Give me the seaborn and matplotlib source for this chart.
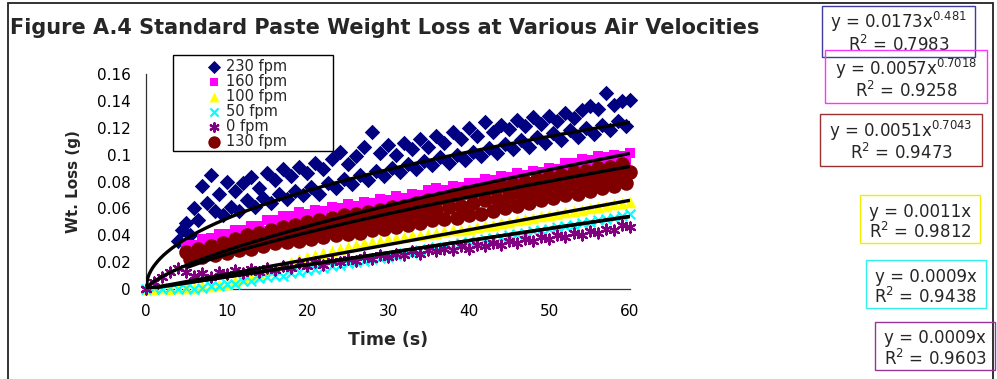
import numpy as np
import pandas as pd
import matplotlib
matplotlib.use("Agg")
import matplotlib.pyplot as plt
from matplotlib.patches import Rectangle
from matplotlib.ticker import FuncFormatter, MultipleLocator
import seaborn as sns

# ------------------------------------------------------------------ data
series = ["230 fpm", "160 fpm", "100 fpm", "50 fpm", "0 fpm", "130 fpm"]
t_first = [4.0, 5.0, 0.0, 0.0, 0.0, 5.0]     # first sample time (s)
t_step = [0.5, 0.5, 1.0, 1.0, 1.0, 0.5]      # sampling interval (s)

loss_230 = [0.036, 0.044, 0.049, 0.040, 0.060, 0.051, 0.077, 0.064, 0.085, 0.058,
            0.071, 0.055, 0.080, 0.061, 0.073, 0.058, 0.079, 0.066, 0.083, 0.061,
            0.075, 0.068, 0.086, 0.064, 0.081, 0.071, 0.089, 0.067, 0.084, 0.073,
            0.091, 0.070, 0.086, 0.076, 0.094, 0.071, 0.089, 0.079, 0.097, 0.075,
            0.102, 0.082, 0.093, 0.078, 0.099, 0.085, 0.106, 0.081, 0.117, 0.088,
            0.101, 0.084, 0.107, 0.090, 0.100, 0.087, 0.109, 0.093, 0.104, 0.089,
            0.112, 0.095, 0.106, 0.092, 0.114, 0.098, 0.109, 0.094, 0.117, 0.100,
            0.112, 0.096, 0.120, 0.102, 0.114, 0.099, 0.124, 0.105, 0.117, 0.101,
            0.122, 0.108, 0.119, 0.104, 0.126, 0.111, 0.121, 0.106, 0.128, 0.113,
            0.123, 0.109, 0.129, 0.116, 0.125, 0.111, 0.131, 0.118, 0.127, 0.113,
            0.133, 0.120, 0.136, 0.115, 0.134, 0.122, 0.146, 0.118, 0.137, 0.125,
            0.140, 0.121, 0.141]
loss_160 = [0.033, 0.028, 0.033, 0.030, 0.037, 0.032, 0.038, 0.034, 0.041, 0.035,
            0.041, 0.037, 0.044, 0.038, 0.044, 0.040, 0.047, 0.041, 0.047, 0.043,
            0.051, 0.045, 0.051, 0.047, 0.054, 0.048, 0.054, 0.050, 0.057, 0.050,
            0.056, 0.051, 0.059, 0.052, 0.058, 0.053, 0.061, 0.054, 0.060, 0.055,
            0.063, 0.056, 0.062, 0.057, 0.065, 0.058, 0.064, 0.059, 0.067, 0.060,
            0.066, 0.061, 0.069, 0.062, 0.068, 0.063, 0.071, 0.064, 0.070, 0.066,
            0.074, 0.068, 0.075, 0.068, 0.074, 0.069, 0.077, 0.070, 0.076, 0.071,
            0.079, 0.073, 0.079, 0.074, 0.082, 0.075, 0.081, 0.076, 0.084, 0.077,
            0.083, 0.078, 0.086, 0.079, 0.085, 0.080, 0.088, 0.081, 0.087, 0.082,
            0.090, 0.083, 0.089, 0.086, 0.094, 0.087, 0.094, 0.089, 0.097, 0.090,
            0.096, 0.091, 0.099, 0.092, 0.098, 0.093, 0.100, 0.094, 0.099, 0.095,
            0.101]
loss_100 = [0.000, 0.000, 0.001, 0.000, 0.001, 0.001, 0.001, 0.002, 0.002, 0.003,
            0.004, 0.006, 0.008, 0.010, 0.012, 0.014, 0.016, 0.018, 0.020, 0.022,
            0.024, 0.025, 0.027, 0.028, 0.030, 0.031, 0.033, 0.034, 0.035, 0.036,
            0.037, 0.038, 0.039, 0.040, 0.040, 0.041, 0.042, 0.043, 0.044, 0.044,
            0.045, 0.046, 0.047, 0.048, 0.049, 0.050, 0.051, 0.052, 0.053, 0.054,
            0.055, 0.056, 0.057, 0.058, 0.059, 0.060, 0.061, 0.062, 0.063, 0.064,
            0.065]
loss_50 = [0.000, 0.001, 0.000, 0.001, 0.000, 0.001, 0.000, 0.001, 0.002, 0.002,
           0.004, 0.004, 0.006, 0.006, 0.008, 0.009, 0.010, 0.010, 0.012, 0.013,
           0.014, 0.015, 0.016, 0.017, 0.018, 0.019, 0.020, 0.021, 0.022, 0.023,
           0.024, 0.025, 0.027, 0.027, 0.029, 0.030, 0.031, 0.031, 0.033, 0.034,
           0.035, 0.036, 0.037, 0.038, 0.039, 0.040, 0.041, 0.042, 0.043, 0.044,
           0.045, 0.046, 0.047, 0.048, 0.049, 0.050, 0.051, 0.052, 0.053, 0.054,
           0.056]
loss_0 = [0.000, 0.005, 0.009, 0.013, 0.016, 0.013, 0.010, 0.012, 0.009, 0.013,
          0.011, 0.014, 0.012, 0.015, 0.013, 0.016, 0.014, 0.017, 0.016, 0.019,
          0.017, 0.020, 0.018, 0.021, 0.020, 0.022, 0.021, 0.024, 0.022, 0.025,
          0.024, 0.026, 0.025, 0.028, 0.026, 0.029, 0.028, 0.030, 0.029, 0.032,
          0.030, 0.033, 0.032, 0.034, 0.033, 0.036, 0.034, 0.037, 0.036, 0.039,
          0.037, 0.040, 0.039, 0.042, 0.040, 0.043, 0.042, 0.045, 0.044, 0.048,
          0.046]
loss_130 = [0.0275, 0.022, 0.026, 0.030, 0.024, 0.028, 0.032, 0.025, 0.030, 0.034,
            0.027, 0.032, 0.037, 0.029, 0.034, 0.040, 0.030, 0.036, 0.042, 0.032,
            0.038, 0.044, 0.034, 0.040, 0.046, 0.035, 0.041, 0.048, 0.036, 0.043,
            0.050, 0.037, 0.044, 0.051, 0.039, 0.046, 0.053, 0.040, 0.047, 0.055,
            0.041, 0.049, 0.056, 0.042, 0.050, 0.057, 0.044, 0.052, 0.059, 0.045,
            0.053, 0.061, 0.046, 0.055, 0.062, 0.048, 0.056, 0.064, 0.049, 0.058,
            0.066, 0.051, 0.059, 0.068, 0.052, 0.061, 0.070, 0.053, 0.062, 0.072,
            0.055, 0.064, 0.074, 0.056, 0.066, 0.075, 0.058, 0.067, 0.077, 0.060,
            0.069, 0.078, 0.062, 0.071, 0.080, 0.064, 0.073, 0.082, 0.066, 0.075,
            0.083, 0.068, 0.077, 0.085, 0.070, 0.078, 0.087, 0.071, 0.080, 0.088,
            0.073, 0.082, 0.090, 0.075, 0.083, 0.091, 0.077, 0.085, 0.093, 0.079,
            0.087]
losses = [loss_230, loss_160, loss_100, loss_50, loss_0, loss_130]

# fitted trendlines shown on the chart: y = a * x^b
fit_a = [0.0173, 0.0057, 0.0011, 0.0009, 0.0009, 0.0051]
fit_b = [0.481, 0.7018, 1.0, 1.0, 1.0, 0.7043]
fit_from = [0.0, 0.0, 0.0, 0.0, 0.0, 5.0]
eq_labels = ["y = 0.0173x$^{0.481}$", "y = 0.0057x$^{0.7018}$", "y = 0.0011x",
             "y = 0.0009x", "y = 0.0009x", "y = 0.0051x$^{0.7043}$"]
r2_labels = ["R$^2$ = 0.7983", "R$^2$ = 0.9258", "R$^2$ = 0.9812",
             "R$^2$ = 0.9438", "R$^2$ = 0.9603", "R$^2$ = 0.9473"]

title = "Figure A.4 Standard Paste Weight Loss at Various Air Velocities"
x_label = "Time (s)"
y_label = "Wt. Loss (g)"

# ------------------------------------------------------------------ styles
colors = ["#000080", "#ff00ff", "#ffff00", "#00ffff", "#800080", "#800000"]
markers = ["D", "s", "^", "x", (6, 2, 0), "o"]
msizes = [62, 58, 70, 48, 52, 110]
box_edge = ["#3c3ca0", "#ff33ff", "#f2ee00", "#33f0f0", "#993399", "#9b3030"]
# equation boxes in pixels: x0, y0, x1, y1, baseline1, baseline2
box_px = [(822, 6, 975, 57, 28.5, 51),
          (825, 50, 987, 103, 75, 97),
          (860, 195, 980, 243, 217, 238),
          (866, 260, 986, 308, 282, 303),
          (875, 322, 995, 370, 343, 365),
          (820, 114, 982, 166, 137, 159)]

W, H = 997, 379
sns.set_theme(style="white")
plt.rcParams["font.family"] = ["DejaVu Sans"]
plt.rcParams["mathtext.fontset"] = "dejavusans"

fig = plt.figure(figsize=(W / 100, H / 100), dpi=100)
ax = fig.add_axes([146 / W, 1 - 289 / H, 484 / W, 215 / H])
ax.set_facecolor("white")

frames = []
for name, t0, dt, vals in zip(series, t_first, t_step, losses):
    t = t0 + dt * np.arange(len(vals))
    frames.append(pd.DataFrame({"Time": t, "Loss": vals, "Series": name}))
df = pd.concat(frames, ignore_index=True)

for i, name in enumerate(series):
    sub = df[df["Series"] == name]
    filled = markers[i] not in ("x", (6, 2, 0))
    kw = dict(edgecolor=colors[i], linewidth=0) if filled else dict(linewidth=1.6)
    sns.scatterplot(data=sub, x="Time", y="Loss", marker=markers[i],
                    color=colors[i], s=msizes[i], ax=ax, label=name,
                    clip_on=False, zorder=3, legend=False, **kw)

for i in range(len(series)):
    tt = np.linspace(fit_from[i], 60, 300)
    ax.plot(tt, fit_a[i] * tt ** fit_b[i], color="black", lw=2.4,
            zorder=4, solid_capstyle="butt")

ax.set_xlim(0, 60)
ax.set_ylim(0, 0.16)
ax.xaxis.set_major_locator(MultipleLocator(10))
ax.yaxis.set_major_locator(MultipleLocator(0.02))
ax.yaxis.set_major_formatter(FuncFormatter(lambda v, p: f"{v:g}"))
for side in ("top", "right"):
    ax.spines[side].set_visible(False)
for side in ("left", "bottom"):
    ax.spines[side].set_color("#333333")
    ax.spines[side].set_linewidth(0.9)
ax.tick_params(axis="both", direction="out", length=4.5, width=0.9,
               color="#333333", labelsize=11, labelcolor="black", pad=6.5)
ax.tick_params(axis="x", pad=6)
ax.grid(False)

ax.set_xlabel(x_label, fontsize=12.5, fontweight="bold")
ax.set_ylabel(y_label, fontsize=11, fontweight="bold")
ax.xaxis.set_label_coords(0.5, (289 - 331) / 215)
ax.yaxis.set_label_coords((81 - 146) / 484, 0.5)

leg = ax.legend(loc="upper left", bbox_to_anchor=(208 / W, 1 - 59 / H),
                bbox_transform=fig.transFigure, frameon=False, fontsize=10.5,
                handlelength=0.85, handletextpad=0.35, labelspacing=0.0,
                borderpad=0, borderaxespad=0, scatterpoints=1, markerscale=0.85)
fig.add_artist(Rectangle((173 / W, 1 - 151 / H), 160 / W, 96 / H,
                         transform=fig.transFigure, fill=False,
                         edgecolor="black", lw=1.0))

fig.text(10 / W, 1 - 33.5 / H, title, fontsize=15, fontweight="bold",
         ha="left", va="baseline")

for i in range(len(series)):
    x0, y0, x1, y1, b1, b2 = box_px[i]
    fig.add_artist(Rectangle((x0 / W, 1 - y1 / H), (x1 - x0) / W, (y1 - y0) / H,
                             transform=fig.transFigure, fill=False,
                             edgecolor=box_edge[i], lw=1.0, zorder=5))
    cx = (x0 + x1) / 2 / W
    fig.text(cx, 1 - b1 / H, eq_labels[i], fontsize=12, ha="center", va="baseline")
    fig.text(cx, 1 - b2 / H, r2_labels[i], fontsize=12, ha="center", va="baseline")

# outer chart-area border
fig.add_artist(Rectangle((8 / W, -0.05), 985 / W, 1.05 - 3 / H,
                         transform=fig.transFigure, fill=False,
                         edgecolor="#222222", lw=1.3, zorder=0))

fig.savefig("out.png", dpi=100, facecolor="white")
